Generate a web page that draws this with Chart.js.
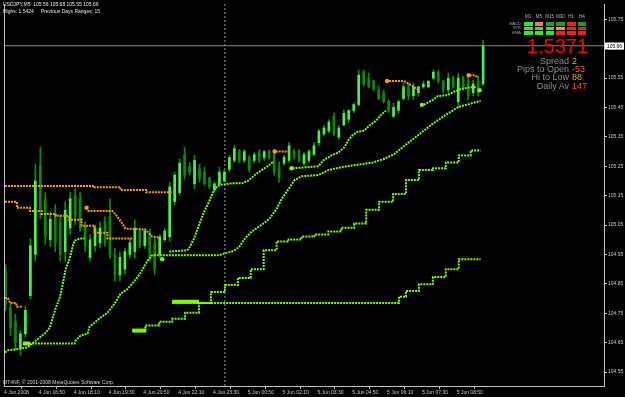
<!DOCTYPE html>
<html><head><meta charset="utf-8">
<script src="https://cdn.jsdelivr.net/npm/chart.js@4/dist/chart.umd.min.js"></script>
<style>
html,body{margin:0;padding:0;background:#000;}
#wrap{position:relative;width:625px;height:397px;overflow:hidden;background:#000;}
canvas{position:absolute;left:0;top:0;}
.t{position:absolute;white-space:pre;font-family:"Liberation Sans",Arial,sans-serif;line-height:1;}
.cell{position:absolute;width:8.5px;height:3.5px;}
</style></head><body>
<div id="wrap">
<canvas id="c" width="625" height="397"></canvas>
<div class="t" style="left:3px;top:2px;font-size:5px;color:#e6e6e6">USDJPY,M5  105.56 105.68 105.55 105.66</div>
<div class="t" style="left:3px;top:8.5px;font-size:5px;color:#e6e6e6">Highs: 1.5424     Previous Days Ranges: 15</div>
<div class="t" style="left:3px;top:380px;font-size:5px;color:#cfcfcf">MT4NF, © 2001-2008 MetaQuotes Software Corp.</div>
<div id="panel"></div>
<div class="t" style="right:37px;top:36.4px;font-size:20px;color:#ff0000">1.5371</div>
<div id="stats"></div>
</div>
<script>
// ---- data ----
const tickLabels = ["4 Jun 2008","4 Jun 16:50","4 Jun 18:10","4 Jun 19:30","4 Jun 20:50","4 Jun 22:10","4 Jun 23:30","5 Jun 00:50","5 Jun 02:10","5 Jun 03:30","5 Jun 04:50","5 Jun 06:10","5 Jun 07:30","5 Jun 08:50"];
const yTicks = [105.75,105.65,105.55,105.45,105.35,105.25,105.15,105.05,104.95,104.85,104.75,104.65,104.55];
const highs = [104.917,104.782,104.748,104.691,104.775,105.004,105.257,105.314,105.162,105.095,
105.119,105.085,105.129,105.162,105.173,105.162,105.061,105.018,105.051,105.061,
105.078,105.139,104.971,104.960,104.971,105.004,105.068,105.038,105.038,105.038,
105.004,105.018,105.038,105.196,105.230,105.274,105.314,105.263,105.287,105.257,
105.247,105.213,105.196,105.247,105.240,105.287,105.321,105.307,105.307,105.287,
105.297,105.307,105.304,105.307,105.307,105.263,105.287,105.331,105.307,105.307,
105.297,105.307,105.331,105.375,105.388,105.408,105.432,105.388,105.442,105.442,
105.465,105.577,105.577,105.567,105.543,105.523,105.509,105.476,105.465,105.476,
105.533,105.533,105.533,105.523,105.540,105.540,105.577,105.577,105.543,105.567,
105.556,105.567,105.556,105.556,105.543,105.556,105.678];
const lows = [104.758,104.674,104.624,104.607,104.668,104.799,104.927,105.072,104.984,104.977,
104.960,104.927,104.927,105.018,105.051,105.028,104.960,104.927,104.960,104.971,
104.977,104.937,104.859,104.859,104.883,104.937,104.937,104.971,104.971,104.927,
104.883,104.937,104.994,104.994,105.119,105.152,105.206,105.220,105.173,105.196,
105.186,105.173,105.162,105.179,105.196,105.230,105.263,105.263,105.263,105.230,
105.263,105.263,105.270,105.274,105.220,105.196,105.253,105.263,105.274,105.263,
105.253,105.263,105.287,105.321,105.354,105.364,105.354,105.341,105.388,105.398,
105.432,105.455,105.523,105.516,105.509,105.476,105.465,105.432,105.415,105.432,
105.476,105.476,105.476,105.489,105.516,105.516,105.543,105.533,105.499,105.499,
105.516,105.449,105.509,105.476,105.489,105.489,105.523];
const opens = [104.90,104.77,104.72,104.63,104.68,104.81,104.95,105.25,105.14,105.00,
105.09,105.06,104.96,105.04,105.15,105.14,105.05,104.94,104.98,104.99,
105.06,105.08,104.95,104.88,104.90,104.95,104.96,105.03,104.98,105.02,
104.99,104.95,105.00,105.01,105.13,105.16,105.29,105.25,105.19,105.24,
105.23,105.21,105.17,105.19,105.20,105.24,105.27,105.30,105.27,105.28,
105.27,105.30,105.28,105.30,105.29,105.25,105.26,105.27,105.30,105.30,
105.26,105.27,105.29,105.33,105.36,105.37,105.42,105.35,105.39,105.41,
105.44,105.46,105.57,105.55,105.54,105.51,105.50,105.47,105.42,105.44,
105.48,105.52,105.49,105.50,105.52,105.52,105.55,105.57,105.54,105.51,
105.55,105.47,105.55,105.54,105.50,105.54,105.53];
const closes = [104.78,104.70,104.65,104.68,104.76,104.98,105.20,105.10,105.01,105.07,
104.99,104.95,105.10,105.14,105.08,105.04,104.98,105.00,105.04,105.04,
104.99,104.95,104.88,104.94,104.96,104.99,105.04,104.98,105.03,104.94,
104.90,105.01,105.03,105.18,105.22,105.26,105.22,105.23,105.27,105.21,
105.19,105.18,105.19,105.23,105.23,105.28,105.31,105.27,105.30,105.24,
105.29,105.27,105.30,105.28,105.23,105.21,105.28,105.32,105.28,105.27,
105.29,105.30,105.32,105.37,105.38,105.40,105.36,105.38,105.43,105.44,
105.46,105.56,105.53,105.52,105.51,105.48,105.47,105.44,105.45,105.47,
105.52,105.49,105.52,105.52,105.53,105.54,105.57,105.54,105.51,105.55,
105.52,105.55,105.52,105.49,105.53,105.50,105.66];

// fast trailing stop (green = support, orange = resistance)
const fastGreenA = [[-0.1,104.617],[0.5,104.624],[1.9,104.627],[4.5,104.634],[4.9,104.641],[6.1,104.657],[6.9,104.668],[8.1,104.684],[8.9,104.701],[9.5,104.735],[10.1,104.768],[10.9,104.802],[11.5,104.849],[12.1,104.900],[12.9,104.937],[13.5,104.977],[13.9,104.997],[14.9,105.004],[15.9,105.004]];
const fastOrangeA = [[16.5,105.098],[21.5,105.098],[22.5,105.078],[23.5,105.055],[24.1,105.038],[28.1,105.035],[28.9,105.021],[29.5,105.011],[31.1,105.007]];
const fastGreenB = [[32.9,104.960],[36.5,104.964],[36.9,104.971],[37.9,105.004],[38.9,105.051],[39.9,105.095],[40.9,105.129],[41.9,105.169],[42.9,105.186],[45.5,105.192],[47.5,105.192],[48.9,105.202],[50.1,105.220],[51.5,105.237],[52.9,105.253],[53.9,105.267]];
const fastOrangeB = [[54.3,105.300],[57.3,105.300]];
const fastGreenC = [[57.7,105.243],[62.9,105.250],[63.9,105.270],[65.5,105.287],[66.9,105.297],[68.1,105.314],[68.9,105.338],[69.9,105.358],[70.9,105.368],[72.1,105.371],[73.1,105.388],[74.5,105.405],[75.5,105.425],[76.5,105.439]];
const fastOrangeC = [[77.1,105.540],[80.1,105.540],[81.5,105.526],[83.1,105.509]];
const fastGreenD = [[84.1,105.459],[85.9,105.476],[86.9,105.489],[88.9,105.492],[90.1,105.503],[91.5,105.513],[93.5,105.519],[94.5,105.519]];
const fastOrangeD = [[93.3,105.560],[94.1,105.560],[95.1,105.553]];
const orangeDots = [[16.3,105.109],[54.1,105.300],[76.7,105.540],[93.1,105.560]];
const greenDots = [[31.5,104.934],[57.5,105.243],[83.7,105.459],[95.3,105.509]];
// medium trailing stop
const midOrange = [[-0.1,104.802],[0.5,104.802],[0.9,104.785],[2.1,104.785],[2.3,104.772],[3.5,104.772]];
const midGreen = [[3.5,104.647],[13.9,104.647],[14.1,104.657],[15.1,104.674],[16.5,104.681],[16.9,104.704],[17.9,104.718],[19.1,104.735],[20.5,104.752],[21.9,104.782],[23.1,104.816],[24.5,104.832],[25.9,104.859],[27.1,104.886],[28.5,104.927],[29.5,104.947],[42.9,104.947],[44.1,104.954],[45.5,104.960],[46.9,104.974],[48.1,105.004],[49.5,105.028],[51.5,105.051],[53.1,105.072],[54.5,105.105],[55.5,105.139],[56.9,105.173],[58.1,105.203],[59.5,105.216],[62.9,105.220],[64.9,105.237],[67.5,105.247],[73.9,105.263],[75.9,105.274],[78.1,105.291],[80.5,105.324],[83.1,105.358],[85.9,105.395],[88.5,105.425],[91.1,105.452],[93.9,105.465],[95.5,105.472]];
// slow trailing stop (stepped)
const slowOrange = [[-0.1,105.129],[2.3,105.109],[4.9,105.098],[7.3,105.088],[10.1,105.082],[12.7,105.068],[15.3,105.048],[17.9,105.024],[20.5,105.004],[25.5,105.004]];
const slowGreen = [[25.5,104.691],[28.1,104.708],[30.9,104.721],[33.5,104.731],[36.1,104.752],[38.9,104.785],[41.3,104.822],[44.1,104.846],[46.7,104.870],[49.3,104.900],[51.9,104.964],[54.5,104.994],[56.9,105.001],[59.5,105.011],[62.1,105.018],[64.9,105.028],[67.5,105.041],[70.1,105.055],[72.5,105.102],[75.1,105.129],[77.9,105.156],[80.5,105.203],[83.1,105.237],[85.9,105.243],[88.5,105.263],[91.1,105.287],[93.5,105.304],[95.5,105.304]];
// slowest trailing stop (stepped)
const slowestOrange = [[-0.1,105.183],[17.9,105.179],[23.1,105.169],[28.3,105.162],[33.5,105.162]];
const slowestGreen = [[33.5,104.785],[79.1,104.806],[80.5,104.826],[83.1,104.849],[85.9,104.873],[88.5,104.900],[91.1,104.934],[95.5,104.934]];
const signalBars = [[3.5,4.9,104.647],[25.5,28.3,104.691],[33.5,38.9,104.789]];
const currentPrice = 105.66;
const daySeparator = 44.1;

// panel data
const tfNames = ["M1","M5","M15","M30","H1","H4"];
const rowNames = ["MACD","STR","EMA"];
const cellColors = [
 ["#2ee82e","#f07a66","#1f9e1f","#1f9e1f","#ff1a1a","#1f9e1f"],
 ["#2ee82e","#2ee82e","#2ee82e","#ff9a1a","#ff1a1a","#ff1a1a"],
 ["#2ee82e","#2ee82e","#2ee82e","#ff1a1a","#ff1a1a","#ff1a1a"]];
const statLabels = ["Spread","Pips to Open","Hi to Low","Daily Av"];
const statValues = ["2","-53","88","147"];
const statColors = ["#ff9900","#ff6410","#e8a040","#ff5418"];

// ---- panel (html text) ----
const panel = document.getElementById('panel');
const cellX0 = 524, cellDX = 10.75;
tfNames.forEach((n,k)=>{
  const d=document.createElement('div'); d.className='t';
  d.style.cssText=`left:${cellX0+k*cellDX-2}px;top:15px;width:12.5px;text-align:center;font-size:4.5px;color:#b8b8b8`;
  d.textContent=n; panel.appendChild(d);
});
rowNames.forEach((n,r)=>{
  const d=document.createElement('div'); d.className='t';
  d.style.cssText=`right:${625-521}px;top:${21.8+r*4.5}px;font-size:4px;color:#a8a8a8`;
  d.textContent=n; panel.appendChild(d);
  cellColors[r].forEach((c,k)=>{
    const e=document.createElement('div'); e.className='cell';
    e.style.cssText+=`left:${cellX0+k*cellDX}px;top:${22+r*4.5}px;background:${c}`;
    panel.appendChild(e);
  });
});
const stats = document.getElementById('stats');
statLabels.forEach((s,k)=>{
  const top = 56.6 + k*8.4;
  const a=document.createElement('div'); a.className='t';
  a.style.cssText=`right:56px;top:${top}px;font-size:9px;color:#8c8c8c`; a.textContent=s; stats.appendChild(a);
  const b=document.createElement('div'); b.className='t';
  b.style.cssText=`left:572px;top:${top}px;font-size:9px;color:${statColors[k]}`; b.textContent=statValues[k]; stats.appendChild(b);
});

// ---- chart ----
const GREEN='#7cfc00', ORANGE='#ff9a00', GRAY='#c0c0c0';
const xMin=-0.3, xMax=120.3, yMin=104.5025, yMax=105.802;
const pts = a => a.map(p=>({x:p[0],y:p[1]}));
const lineDs = (a,color,extra={}) => Object.assign({type:'line',data:pts(a),borderColor:color,borderWidth:2,borderDash:[2,1],pointRadius:0,tension:0,fill:false,order:1}, extra);

const datasets = [];
datasets.push({type:'bar',data:highs.map((h,i)=>({x:i,y:[lows[i],h]})),backgroundColor:'#009400',barThickness:1,grouped:false,order:10});
datasets.push({type:'bar',data:opens.map((o,i)=>({x:i,y:[Math.min(o,closes[i]),Math.max(o,closes[i])]})),
  backgroundColor:opens.map((o,i)=>closes[i]>=o?'#4cf04c':'#0a8a0a'),barThickness:2,grouped:false,order:9});
[fastGreenA,fastGreenB,fastGreenC,fastGreenD,midGreen].forEach(a=>datasets.push(lineDs(a,GREEN)));
[fastOrangeA,fastOrangeB,fastOrangeC,fastOrangeD,midOrange].forEach(a=>datasets.push(lineDs(a,ORANGE)));
datasets.push(lineDs(slowGreen,GREEN,{stepped:true}));
datasets.push(lineDs(slowestGreen,GREEN,{stepped:true}));
datasets.push(lineDs(slowOrange,ORANGE,{stepped:true}));
datasets.push(lineDs(slowestOrange,ORANGE,{stepped:true}));
signalBars.forEach(s=>datasets.push(lineDs([[s[0],s[2]],[s[1],s[2]]],GREEN,{borderWidth:4,borderDash:[],borderCapStyle:'butt',order:0})));
datasets.push({type:'line',data:pts(orangeDots),showLine:false,pointRadius:2.2,pointBackgroundColor:ORANGE,pointBorderWidth:0,order:0});
datasets.push({type:'line',data:pts(greenDots),showLine:false,pointRadius:2.2,pointBackgroundColor:GREEN,pointBorderWidth:0,order:0});
datasets.push({type:'line',data:[{x:xMin,y:currentPrice},{x:xMax,y:currentPrice}],borderColor:'#8a8a8a',borderWidth:1,pointRadius:0,order:20});
datasets.push({type:'line',data:[{x:daySeparator,y:yMin},{x:daySeparator,y:yMax}],borderColor:'#9a9a9a',borderWidth:1,borderDash:[2,2],pointRadius:0,order:20});

const framePlugin = {
  id:'frame',
  afterDraw(chart){
    const {ctx, chartArea:a, scales:{y}} = chart;
    ctx.save();
    ctx.strokeStyle=GRAY; ctx.lineWidth=1;
    ctx.beginPath(); ctx.moveTo(a.left+0.5,a.top); ctx.lineTo(a.left+0.5,a.bottom); ctx.stroke();
    const py = Math.round(y.getPixelForValue(currentPrice));
    ctx.fillStyle='#ffffff'; ctx.fillRect(a.right+1,py-3.5,19,7);
    ctx.fillStyle='#000000'; ctx.font='5px "Liberation Sans", Arial'; ctx.textAlign='center'; ctx.textBaseline='middle';
    ctx.fillText(currentPrice.toFixed(2), a.right+10.5, py+0.5);
    ctx.restore();
  }
};

new Chart(document.getElementById('c'), {
  type:'bar',
  data:{datasets},
  plugins:[framePlugin],
  options:{
    responsive:false, animation:false, devicePixelRatio:1,
    layout:{padding:{left:1,top:0,right:0,bottom:0}},
    plugins:{legend:{display:false},tooltip:{enabled:false}},
    scales:{
      x:{type:'linear',position:'bottom',min:xMin,max:xMax,offset:false,
        grid:{display:true,drawOnChartArea:false,drawTicks:true,tickLength:3,color:GRAY},
        border:{display:true,color:GRAY},
        ticks:{autoSkip:false,maxRotation:0,align:'start',padding:1,color:'#c8c8c8',font:{family:'Liberation Sans',size:5},
          callback:(v,i)=>tickLabels[i]},
        afterBuildTicks:s=>{s.ticks=tickLabels.map((_,k)=>({value:xMin+7*k}));},
        afterFit:s=>{s.height=11;s.paddingLeft=0;s.paddingRight=0;}
      },
      y:{type:'linear',position:'right',min:yMin,max:yMax,
        grid:{display:true,drawOnChartArea:false,drawTicks:true,tickLength:3,color:GRAY},
        border:{display:true,color:GRAY},
        ticks:{padding:1,color:'#c8c8c8',font:{family:'Liberation Sans',size:5},callback:v=>v.toFixed(2)},
        afterBuildTicks:s=>{s.ticks=yTicks.map(v=>({value:v}));},
        afterFit:s=>{s.width=21;s.paddingTop=0;s.paddingBottom=0;}
      }
    }
  }
});
</script>
</body></html>
